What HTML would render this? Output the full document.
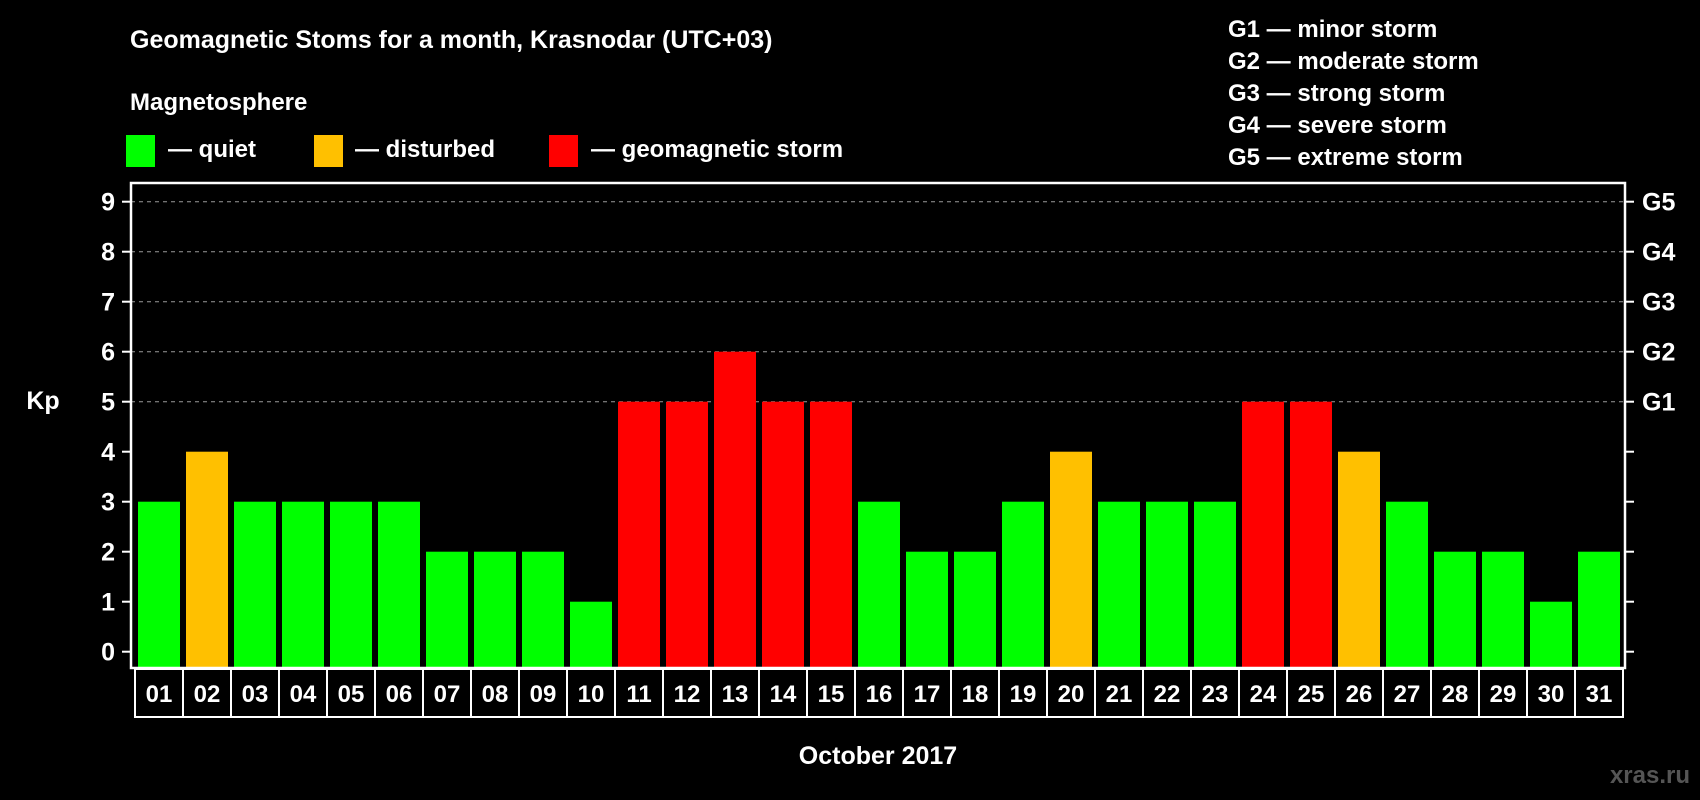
<!DOCTYPE html>
<html><head><meta charset="utf-8"><style>
body{margin:0;background:#000;width:1700px;height:800px;overflow:hidden}
svg{display:block;font-family:"Liberation Sans",Arial,sans-serif;font-weight:bold}
</style></head><body>
<svg id="c" width="1700" height="800" viewBox="0 0 1700 800">
<text x="130" y="48" font-size="25" fill="#fff">Geomagnetic Stoms for a month, Krasnodar (UTC+03)</text>
<text x="130" y="110" font-size="24" fill="#fff">Magnetosphere</text>
<rect x="126" y="135" width="29" height="32" fill="#00ff00"/>
<text x="168" y="157" font-size="24" fill="#fff">— quiet</text>
<rect x="314" y="135" width="29" height="32" fill="#ffc000"/>
<text x="355" y="157" font-size="24" fill="#fff">— disturbed</text>
<rect x="549" y="135" width="29" height="32" fill="#ff0000"/>
<text x="591" y="157" font-size="24" fill="#fff">— geomagnetic storm</text>
<g font-size="24" fill="#fff">
<text x="1228" y="37">G1 — minor storm</text>
<text x="1228" y="69">G2 — moderate storm</text>
<text x="1228" y="101">G3 — strong storm</text>
<text x="1228" y="133">G4 — severe storm</text>
<text x="1228" y="165">G5 — extreme storm</text>
</g>
<text x="43" y="409" font-size="25" fill="#fff" text-anchor="middle">Kp</text>
<text x="878" y="764" font-size="25" fill="#fff" text-anchor="middle">October 2017</text>
<text x="1690" y="783" font-size="24" fill="#555" text-anchor="end">xras.ru</text>
<g id="plot"></g>
</svg>
<script>
const days=["01","02","03","04","05","06","07","08","09","10","11","12","13","14","15","16","17","18","19","20","21","22","23","24","25","26","27","28","29","30","31"];
const kp=[3,4,3,3,3,3,2,2,2,1,5,5,6,5,5,3,2,2,3,4,3,3,3,5,5,4,3,2,2,1,2];
const yTicks=[0,1,2,3,4,5,6,7,8,9];
const gLabels=["G1","G2","G3","G4","G5"];
const NS="http://www.w3.org/2000/svg";
const g=document.getElementById('plot');
const L=131,R=1625,T=183,B=668,slot0=135,slotW=48;
const y=v=>651.7-50*v;
const x=i=>slot0+slotW*i;
function mk(t,a){const e=document.createElementNS(NS,t);for(const k in a)e.setAttribute(k,a[k]);g.appendChild(e);return e;}
const col=v=>v>=5?"#ff0000":v>=4?"#ffc000":"#00ff00";
yTicks.forEach(v=>{
 if(v>=5){const gl=mk('line',{x1:L,x2:R,y1:y(v),y2:y(v),stroke:'#999','stroke-width':1,'stroke-dasharray':'4,4'});
 
 }
 const t1=mk('line',{x1:L-9,x2:L,y1:y(v),y2:y(v),stroke:'#fff','stroke-width':2});
 
 
 const t2=mk('line',{x1:R,x2:R+9,y1:y(v),y2:y(v),stroke:'#fff','stroke-width':2});
 
 
 const lb=mk('text',{x:115,y:y(v)+9,'font-size':25,fill:'#fff','text-anchor':'end'});lb.textContent=v;
 
 
});
gLabels.forEach((s,i)=>{
 const lb=mk('text',{x:1642,y:y(5+i)+9,'font-size':25,fill:'#fff'});lb.textContent=s;
 
 
});
kp.forEach((v,i)=>{
 const b=mk('rect',{x:x(i)+3,y:y(v),width:42,height:B-y(v),fill:col(v)});
 
 
});
const fr=mk('rect',{x:L,y:T,width:R-L,height:B-T,fill:'none',stroke:'#fff','stroke-width':2.5});


days.forEach((d,i)=>{
 const bx=mk('rect',{x:x(i),y:B+1,width:slotW,height:48,fill:'none',stroke:'#fff','stroke-width':2});
 
 
 const t=mk('text',{x:x(i)+slotW/2,y:702,'font-size':24,fill:'#fff','text-anchor':'middle'});t.textContent=d;
 
 
});
</script>
</body></html>
